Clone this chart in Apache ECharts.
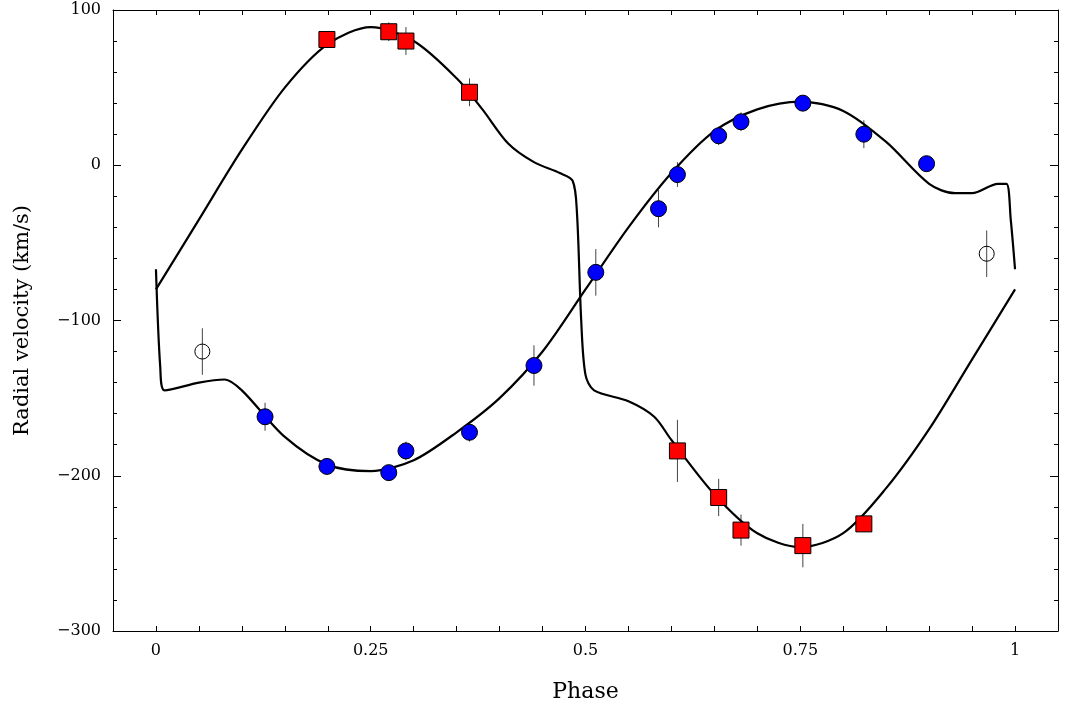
<!DOCTYPE html><html><head><meta charset="utf-8">
<script src="https://cdn.jsdelivr.net/npm/echarts@6/dist/echarts.min.js"></script>
<style>html,body{margin:0;padding:0;background:#fff}#c{width:1068px;height:713px}</style></head>
<body><div id="c"></div><script>
// Secondary (blue circles): [phase, rv, err]
const secondaryPts = [[0.127,-162,9],[0.199,-194,5],[0.271,-198,5],[0.291,-184,6],[0.365,-172,6],[0.440,-129,13],[0.512,-69,15],[0.585,-28,12],[0.607,-6,8],[0.655,19,6],[0.681,28,6],[0.753,40,5],[0.824,20,9],[0.897,1,5]];
const openPts = [[0.054,-120,15],[0.967,-57,15]];
// Primary (red squares)
const primaryPts = [[0.199,81,4],[0.271,86,6],[0.291,80,9],[0.365,47,9],[0.607,-184,20],[0.655,-214,12],[0.681,-235,10],[0.753,-245,14],[0.824,-231,5]];
// Model curves
const primaryCurve = [[0,-80],[0.05,-35],[0.1,10],[0.15,50],[0.2,78],[0.25,89],[0.3,80],[0.35,56],[0.38,36],[0.41,14],[0.44,2],[0.47,-5],[0.485,-10],[0.49,-30],[0.495,-100],[0.5,-135],[0.51,-145],[0.55,-152],[0.58,-162],[0.6,-177],[0.65,-212],[0.7,-237],[0.75,-246],[0.8,-237],[0.85,-208],[0.9,-170],[0.95,-125],[1.0,-80]];
const secondaryCurve = [[0,-67],[0.005,-130],[0.01,-145],[0.05,-140],[0.08,-138],[0.1,-145],[0.15,-175],[0.2,-193],[0.25,-197],[0.3,-190],[0.35,-172],[0.4,-150],[0.45,-120],[0.5,-80],[0.55,-40],[0.6,-5],[0.65,22],[0.7,36],[0.75,41],[0.8,35],[0.85,15],[0.9,-12],[0.93,-18],[0.95,-18],[0.98,-12],[0.99,-12],[0.995,-35],[1.0,-67]];
const xTicks = {0:'0',0.25:'0.25',0.5:'0.5',0.75:'0.75',1:'1'};

const F = 'DejaVu Serif';
const errSeries = pts => ({type:'custom', data:pts, z:1, silent:true,
  renderItem:(p,api)=>{const x=api.value(0),y=api.value(1),e=api.value(2);
    const a=api.coord([x,y+e]),b=api.coord([x,y-e]);
    return {type:'line',shape:{x1:a[0],y1:a[1],x2:b[0],y2:b[1]},style:{stroke:'#444',lineWidth:1}};}});
const axCommon = {axisLine:{onZero:false,lineStyle:{color:'#000'}},axisTick:{inside:true,length:8,lineStyle:{color:'#000'}},minorTick:{show:true,splitNumber:5,length:4,lineStyle:{color:'#000'}},splitLine:{show:false}};
const xTick = {minorTick:{show:false},axisTick:{inside:true,length:5,lineStyle:{color:'#000'}}};
const chart = echarts.init(document.getElementById('c'));
chart.setOption({
  animation:false,
  grid:{left:113,right:10,top:10,bottom:82},
  xAxis:[
    Object.assign({type:'value',min:-0.05,max:1.05,interval:0.05,position:'bottom',name:'Phase',nameLocation:'middle',nameGap:50,nameTextStyle:{fontFamily:F,fontSize:22,color:'#000'},
      axisLabel:{fontFamily:F,fontSize:16,color:'#000',margin:12,formatter:v=>{const k=Math.round(v*100)/100;return xTicks[k]!==undefined?xTicks[k]:'';}}},axCommon,xTick),
    Object.assign({type:'value',min:-0.05,max:1.05,interval:0.05,position:'top',axisLabel:{show:false}},axCommon,xTick)
  ],
  yAxis:[
    Object.assign({type:'value',min:-300,max:100,interval:100,position:'left',name:'Radial velocity (km/s)',nameLocation:'middle',nameGap:80,nameTextStyle:{fontFamily:F,fontSize:21,color:'#000'},
      axisLabel:{fontFamily:F,fontSize:16,color:'#000',margin:12,formatter:v=>v<0?'\u2212'+(-v):String(v)}},axCommon),
    Object.assign({type:'value',min:-300,max:100,interval:100,position:'right',axisLabel:{show:false}},axCommon)
  ],
  series:[
    {type:'line',data:primaryCurve,smooth:0.3,showSymbol:false,lineStyle:{color:'#000',width:2.2},z:2},
    {type:'line',data:secondaryCurve,smooth:0.3,showSymbol:false,lineStyle:{color:'#000',width:2.2},z:2},
    errSeries(secondaryPts),errSeries(openPts),errSeries(primaryPts),
    {type:'scatter',data:secondaryPts,symbol:'circle',symbolSize:16,itemStyle:{color:'#0000ff',opacity:1,borderColor:'#000',borderWidth:1},z:3},
    {type:'scatter',data:openPts,symbol:'circle',symbolSize:15,itemStyle:{color:'rgba(255,255,255,0)',opacity:1,borderColor:'#000',borderWidth:1},z:3},
    {type:'scatter',data:primaryPts,symbol:'rect',symbolSize:16,itemStyle:{color:'#ff0000',opacity:1,borderColor:'#000',borderWidth:1},z:3}
  ]
});
</script></body></html>
